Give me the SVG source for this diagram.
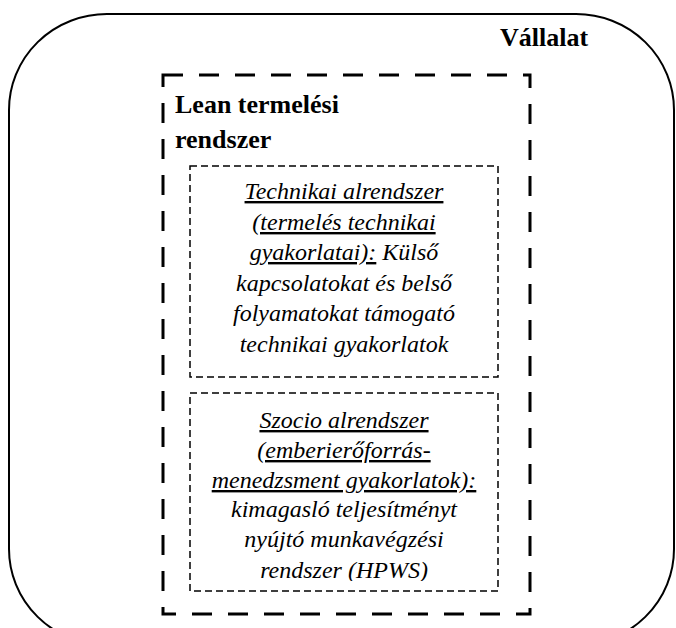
<svg xmlns="http://www.w3.org/2000/svg" width="676" height="628" viewBox="0 0 676 628">
<defs>
<style>
.outer{fill:none;stroke:#000;stroke-width:2}
.lean{fill:none;stroke:#000;stroke-width:3;stroke-dasharray:20 16}
.sub{fill:none;stroke:#000;stroke-width:1.5;stroke-dasharray:7 4}
.bold{font-family:"Liberation Serif","Times New Roman",serif;font-weight:bold;font-size:26px;fill:#000}
.it{font-family:"Liberation Serif","Times New Roman",serif;font-style:italic;font-size:24px;fill:#000;text-anchor:middle}
.u{text-decoration:underline}
</style>
<clipPath id="clipSzocio"><rect x="190" y="393" width="308" height="188"/></clipPath>
</defs>
<g id="vallalat">
<rect class="outer" x="9" y="14" width="665" height="631" rx="98" ry="96"/>
<text class="bold" x="500" y="46">Vállalat</text>
</g>
<g id="lean">
<rect class="lean" x="163" y="75" width="367" height="539"/>
<text class="bold" x="175" y="113">Lean termelési</text>
<text class="bold" x="175" y="148">rendszer</text>
</g>
<g id="technikai">
<rect class="sub" x="190" y="166" width="308" height="211"/>
<text class="it" x="344" y="199"><tspan class="u">Technikai alrendszer</tspan></text>
<text class="it" x="344" y="230"><tspan class="u">(termelés technikai</tspan></text>
<text class="it" x="344" y="260"><tspan class="u">gyakorlatai):</tspan> Külső</text>
<text class="it" x="344" y="291">kapcsolatokat és belső</text>
<text class="it" x="344" y="321">folyamatokat támogató</text>
<text class="it" x="344" y="352">technikai gyakorlatok</text>
</g>
<g id="szocio">
<rect class="sub" x="190" y="393" width="308" height="198"/>
<g clip-path="url(#clipSzocio)">
<text class="it" x="344" y="428"><tspan class="u">Szocio alrendszer</tspan></text>
<text class="it" x="344" y="458"><tspan class="u">(emberierőforrás-</tspan></text>
<text class="it" x="344" y="488"><tspan class="u">menedzsment gyakorlatok):</tspan></text>
<text class="it" x="344" y="517">kimagasló teljesítményt</text>
<text class="it" x="344" y="547">nyújtó munkavégzési</text>
<text class="it" x="344" y="578">rendszer (HPWS)</text>
</g>
</g>
<g id="connectors"></g>
</svg>
